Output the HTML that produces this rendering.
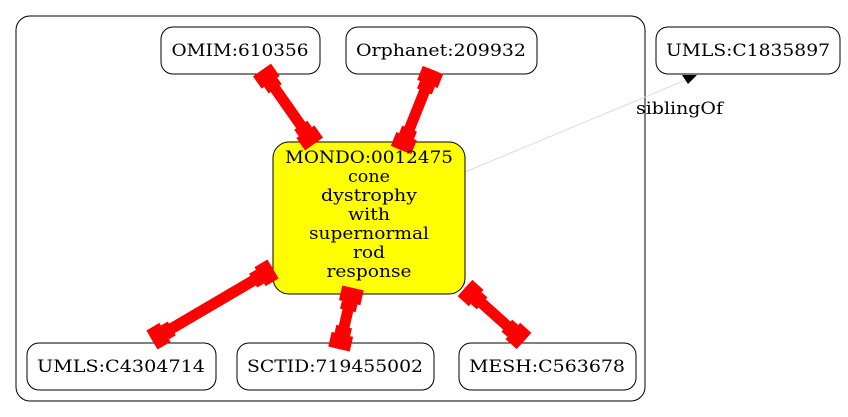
<!DOCTYPE html>
<html><head><style>
body{margin:0;background:#fff;}
svg{display:block;font-family:"DejaVu Serif","Liberation Serif",serif;}
</style></head><body>
<svg id="s" width="848" height="417" viewBox="0 0 848 417">
<rect x="16" y="16" width="629" height="385" rx="14" fill="none" stroke="#000" stroke-width="1"/>
<line x1="465" y1="172" x2="686" y2="80" stroke="#ddd" stroke-width="1"/>
<polygon points="682,75 697,75 688,84" fill="#000"/>
<text x="636" y="114" font-size="16.5" textLength="87" lengthAdjust="spacingAndGlyphs">siblingOf</text>
<g fill="#fff" stroke="#000" stroke-width="1">
<rect x="161" y="27" width="159" height="47" rx="12"/>
<rect x="346" y="27" width="191" height="47" rx="12"/>
<rect x="656" y="27" width="184" height="47" rx="12"/>
<rect x="273" y="142" width="192" height="152" rx="16" fill="#ffff00"/>
<rect x="27" y="343" width="189" height="47" rx="12"/>
<rect x="237" y="343" width="197" height="47" rx="12"/>
<rect x="459" y="343" width="177" height="47" rx="12"/>
</g>
<g id="edges"></g>
<g font-size="16.5" text-anchor="middle">
<text x="240" y="56" textLength="137" lengthAdjust="spacingAndGlyphs">OMIM:610356</text>
<text x="441" y="56" textLength="170" lengthAdjust="spacingAndGlyphs">Orphanet:209932</text>
<text x="748" y="56" textLength="164" lengthAdjust="spacingAndGlyphs">UMLS:C1835897</text>
<text x="121" y="372" textLength="168" lengthAdjust="spacingAndGlyphs">UMLS:C4304714</text>
<text x="335" y="372" textLength="176" lengthAdjust="spacingAndGlyphs">SCTID:719455002</text>
<text x="547" y="372" textLength="156" lengthAdjust="spacingAndGlyphs">MESH:C563678</text>
<text x="369" y="163" textLength="168" lengthAdjust="spacingAndGlyphs">MONDO:0012475</text>
<text x="369" y="182" textLength="42" lengthAdjust="spacingAndGlyphs">cone</text>
<text x="369" y="201" textLength="96" lengthAdjust="spacingAndGlyphs">dystrophy</text>
<text x="369" y="220" textLength="42" lengthAdjust="spacingAndGlyphs">with</text>
<text x="369" y="239" textLength="120" lengthAdjust="spacingAndGlyphs">supernormal</text>
<text x="369" y="258" textLength="32" lengthAdjust="spacingAndGlyphs">rod</text>
<text x="369" y="277" textLength="85" lengthAdjust="spacingAndGlyphs">response</text>
</g>
</svg>
<script>
var E=[[262,70,314,144],[433,70,401,150],[273,269,152,340],[353,288,339,349],[465,288,524,341]];
var g=document.getElementById('edges'),h='';
E.forEach(function(e){
var dx=e[2]-e[0],dy=e[3]-e[1],L=Math.hypot(dx,dy),a=Math.atan2(dy,dx)*180/Math.PI;
h+='<g transform="translate('+e[0]+','+e[1]+') rotate('+a+')" fill="#f00">';
h+='<rect x="0" y="-5.5" width="'+L+'" height="11"/>';
h+='<rect x="0" y="-11" width="15" height="22"/><rect x="15" y="-8" width="8" height="16"/>';
h+='<rect x="'+(L-15)+'" y="-11" width="15" height="22"/><rect x="'+(L-23)+'" y="-8" width="8" height="16"/>';
h+='</g>';});
g.innerHTML=h;
</script>
</body></html>
